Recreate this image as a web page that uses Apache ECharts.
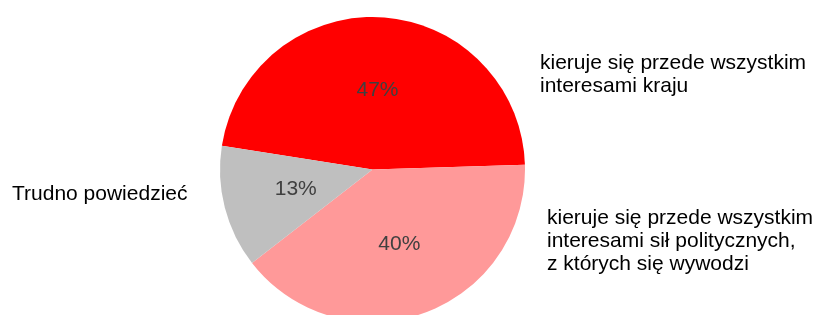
<!DOCTYPE html>
<html>
<head>
<meta charset="utf-8">
<script src="https://cdn.jsdelivr.net/npm/echarts@6/dist/echarts.min.js"></script>
<style>
  html, body {margin: 0; padding: 0; background: #fff;}
  #chart {width: 818px; height: 315px;}
</style>
</head>
<body>
<div id="chart"></div>
<script>
const categories = [
  "kieruje się przede wszystkim\ninteresami kraju",
  "kieruje się przede wszystkim\ninteresami sił politycznych,\nz których się wywodzi",
  "Trudno powiedzieć",
];
const values = [47, 40, 13];
const colors = ["#ff0000", "#ff9999", "#bfbfbf"];

// where the category names sit (left edge, vertical middle)
const NAME_POS = [
  {x: 540, y: 75},
  {x: 547, y: 241},
  {x: 12, y: 194},
];

const FONT = "'Liberation Sans', Arial, sans-serif";

const pieData = categories.map((name, i) => ({
  name,
  value: values[i],
  itemStyle: {color: colors[i]},
}));

const chart = echarts.init(document.getElementById("chart"));
chart.setOption({
  animation: false,
  series: [
    {
      type: "pie",
      center: [372.5, 169.5],
      radius: 152.5,
      startAngle: 171,
      clockwise: true,
      data: pieData,
      itemStyle: {borderWidth: 0},
      label: {
        show: true,
        position: "inside",
        formatter: "{c}%",
        color: "#404040",
        fontSize: 21,
        fontFamily: FONT,
      },
      labelLine: {show: false},
      emphasis: {disabled: true},
    },
    {
      type: "pie",
      center: [372.5, 169.5],
      radius: 152.5,
      startAngle: 171,
      clockwise: true,
      silent: true,
      data: pieData.map(d => ({name: d.name, value: d.value})),
      itemStyle: {color: "rgba(0,0,0,0)", borderWidth: 0},
      label: {
        show: true,
        position: "outside",
        formatter: "{b}",
        color: "#000",
        fontSize: 21,
        lineHeight: 23,
        fontFamily: FONT,
        overflow: "none",
        width: 300,
      },
      labelLine: {show: false},
      labelLayout: (params) => ({
        x: NAME_POS[params.dataIndex].x,
        y: NAME_POS[params.dataIndex].y,
        align: "left",
        verticalAlign: "middle",
      }),
      emphasis: {disabled: true},
    },
  ],
});
</script>
</body>
</html>
